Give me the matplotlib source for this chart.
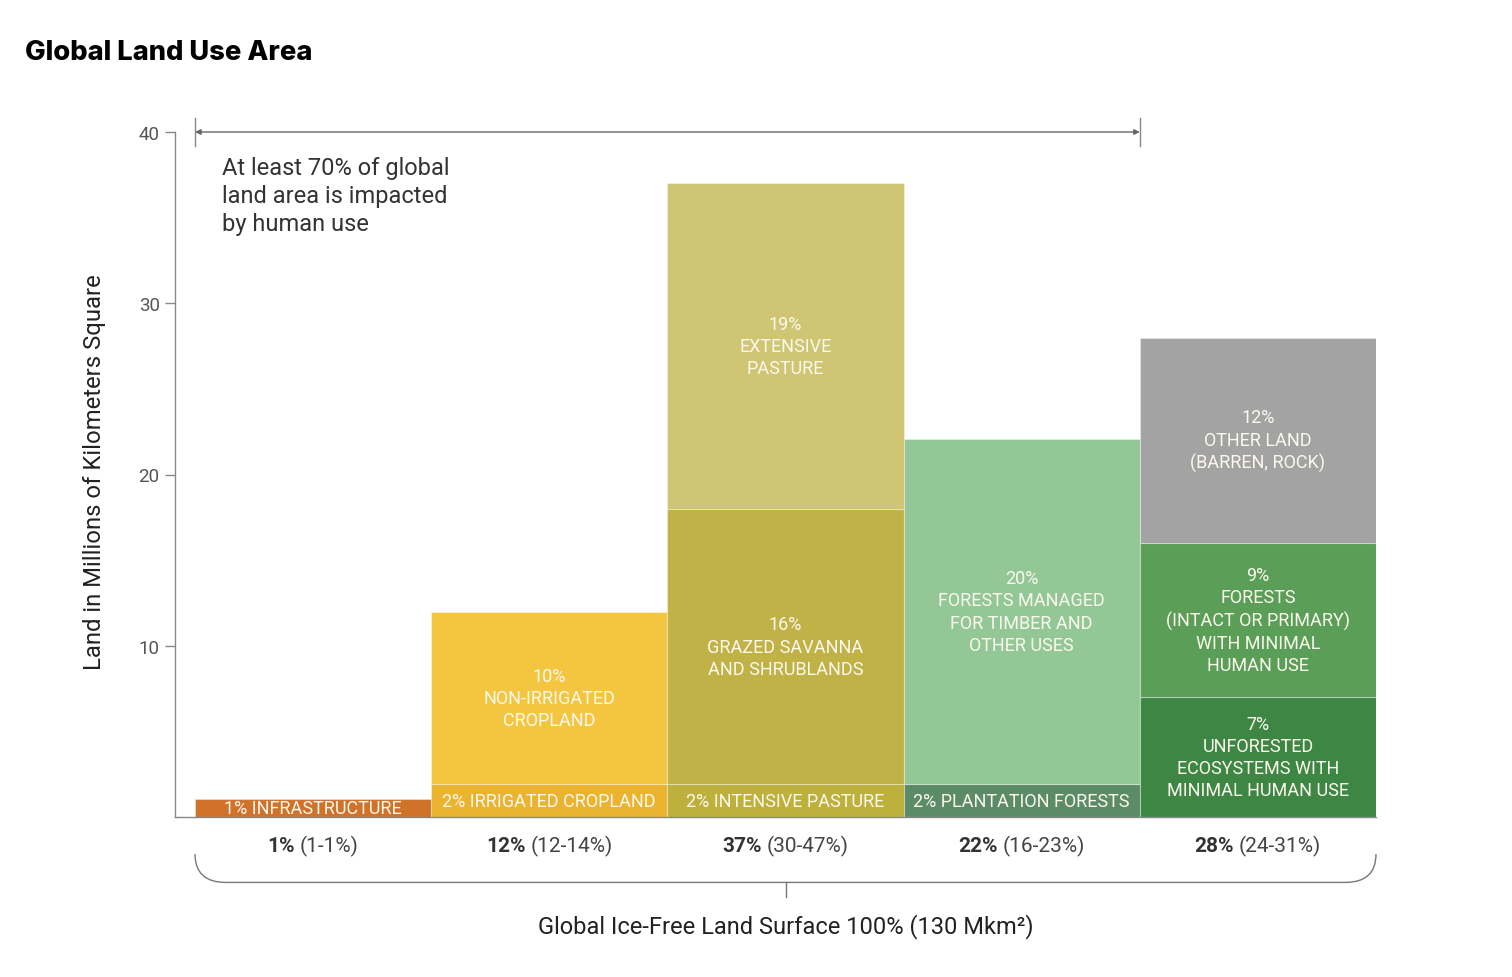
import numpy as np
import matplotlib
matplotlib.use("Agg")
import matplotlib.pyplot as plt
from matplotlib.path import Path
from matplotlib.patches import PathPatch
from matplotlib.transforms import offset_copy

plt.rcParams['font.family'] = ['Roboto', 'DejaVu Sans']

# Donnees (millions de km2), de bas en haut pour chaque colonne
col_totals = ["1%", "12%", "37%", "22%", "28%"]
col_ranges = ["(1-1%)", "(12-14%)", "(30-47%)", "(16-23%)", "(24-31%)"]

col1_values = [1.05]
col1_labels = ["1% INFRASTRUCTURE"]
col1_colors = ["#D1722B"]

col2_values = [1.9, 10.1]
col2_labels = ["2% IRRIGATED CROPLAND", "10%\nNON-IRRIGATED\nCROPLAND"]
col2_colors = ["#EAB330", "#F4C640"]

col3_values = [1.9, 16.1, 19.0]
col3_labels = ["2% INTENSIVE PASTURE", "16%\nGRAZED SAVANNA\nAND SHRUBLANDS", "19%\nEXTENSIVE\nPASTURE"]
col3_colors = ["#BEB03C", "#C1B247", "#CFC572"]

col4_values = [1.9, 20.2]
col4_labels = ["2% PLANTATION FORESTS", "20%\nFORESTS MANAGED\nFOR TIMBER AND\nOTHER USES"]
col4_colors = ["#5C8B67", "#93C796"]

col5_values = [7.0, 9.0, 12.0]
col5_labels = ["7%\nUNFORESTED\nECOSYSTEMS WITH\nMINIMAL HUMAN USE",
               "9%\nFORESTS\n(INTACT OR PRIMARY)\nWITH MINIMAL\nHUMAN USE",
               "12%\nOTHER LAND\n(BARREN, ROCK)"]
col5_colors = ["#3E8644", "#5A9E57", "#A3A3A3"]

columns = [
    (col1_values, col1_labels, col1_colors),
    (col2_values, col2_labels, col2_colors),
    (col3_values, col3_labels, col3_colors),
    (col4_values, col4_labels, col4_colors),
    (col5_values, col5_labels, col5_colors),
]

GRAY = "#555555"
fig = plt.figure(figsize=(15.12, 9.78), dpi=100)
ax = fig.add_axes([175 / 1512, 1 - 818 / 978, (1376 - 175) / 1512, (818 - 133) / 978])

for i, (vals, labels, colors) in enumerate(columns):
    bottom = 0
    for v, lab, c in zip(vals, labels, colors):
        ax.bar(i, v, width=1.0, bottom=bottom, align='edge', color=c,
               edgecolor=(1, 1, 1, 0.35), linewidth=0.8)
        ax.text(i + 0.5, bottom + v / 2, lab, ha='center', va='center',
                color='#FBF8EE', fontsize=13, linespacing=1.3)
        bottom += v

ax.set_xlim(-20 / 236, 5)
ax.set_ylim(0, 40)
ax.set_yticks([10, 20, 30, 40])
ax.set_xticks([])
ax.tick_params(axis='y', length=7, width=1, color='#888888', labelcolor=GRAY,
               labelsize=13.5, pad=4)
for s in ['top', 'right']:
    ax.spines[s].set_visible(False)
for s in ['left', 'bottom']:
    ax.spines[s].set_color('#888888')
    ax.spines[s].set_linewidth(1)

# fleche du haut
ax.annotate("", xy=(0, 40), xytext=(4, 40), annotation_clip=False,
            arrowprops=dict(arrowstyle='<|-|>', color='#666666', lw=1,
                            mutation_scale=8, shrinkA=0, shrinkB=0))
for xv in [0, 4]:
    ax.plot([xv, xv], [39.2, 40.8], color='#888888', lw=1, clip_on=False)
ax.text(0.115, 38.6, "At least 70% of global\nland area is impacted\nby human use",
        ha='left', va='top', fontsize=17, color='#333333', linespacing=1.28)

# etiquettes du bas (gras + normal)
renderer = fig.canvas.get_renderer()
for i in range(5):
    t1 = ax.text(i + 0.5, -1.69, col_totals[i], ha='left', va='center',
                 fontsize=15, fontweight='bold', color='#333333', clip_on=False)
    t2 = ax.text(i + 0.5, -1.69, col_ranges[i], ha='left', va='center',
                 fontsize=15, color='#444444', clip_on=False)
    w1 = t1.get_window_extent(renderer).width
    w2 = t2.get_window_extent(renderer).width
    gap = 5
    total = w1 + gap + w2
    t1.set_transform(offset_copy(ax.transData, fig=fig, x=-total / 2, y=0, units='dots'))
    t2.set_transform(offset_copy(ax.transData, fig=fig, x=-total / 2 + w1 + gap, y=0, units='dots'))

# accolade
yb, yt, r = -3.82, -2.16, 0.13
verts = [(0, yt), (0, yb), (r, yb), (5 - r, yb), (5, yb), (5, yt)]
codes = [Path.MOVETO, Path.CURVE3, Path.CURVE3, Path.LINETO, Path.CURVE3, Path.CURVE3]
ax.add_patch(PathPatch(Path(verts, codes), fill=False, edgecolor='#777777',
                       lw=1, clip_on=False))
ax.plot([2.5, 2.5], [yb, -4.7], color='#777777', lw=1, clip_on=False)

ax.text(2.5, -6.35, "Global Ice-Free Land Surface 100% (130 Mkm²)", ha='center',
        va='center', fontsize=17, color='#222222', clip_on=False)

fig.text(95 / 1512, 1 - 472 / 978, "Land in Millions of Kilometers Square",
         rotation=90, ha='center', va='center', fontsize=17.2, color='#222222')

fig.text(25 / 1512, 1 - 53 / 978, "Global Land Use Area", ha='left', va='center',
         fontsize=19.7, fontweight='heavy', family=['Inter', 'DejaVu Sans'], color='black')

plt.savefig("out.png", dpi=100)
